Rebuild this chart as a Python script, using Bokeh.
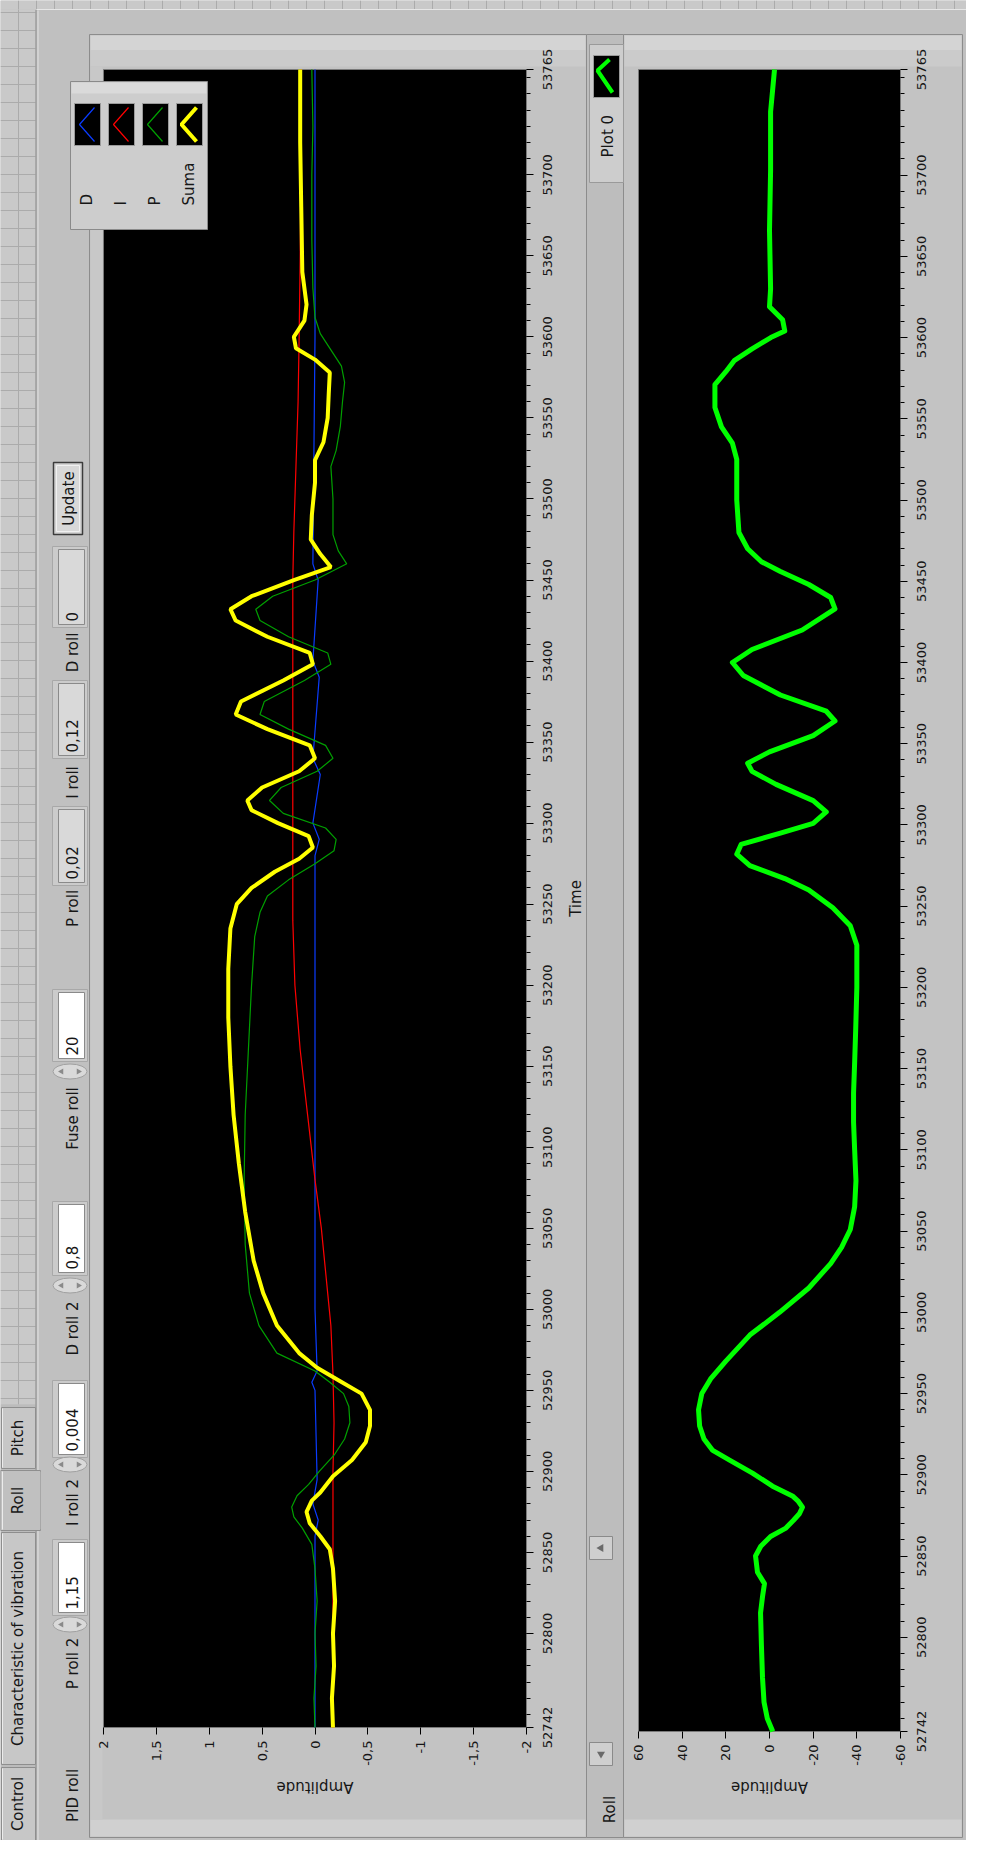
import math
from bokeh.plotting import figure
from bokeh.models import Range1d, LinearAxis, FixedTicker
from bokeh.embed import file_html
from bokeh.resources import INLINE
from bokeh.core.properties import value

# ---------------- data ----------------
time_start, time_end = 52742, 53765
amp_min, amp_max = -2, 2
roll_min, roll_max = -60, 60
amp_ticks = [-2, -1.5, -1, -0.5, 0, 0.5, 1, 1.5, 2]
amp_labels = ["-2", "-1,5", "-1", "-0,5", "0", "0,5", "1", "1,5", "2"]
roll_ticks = [-60, -40, -20, 0, 20, 40, 60]
roll_labels = ["-60", "-40", "-20", "0", "20", "40", "60"]
time_ticks = [52742, 52800, 52850, 52900, 52950, 53000, 53050, 53100, 53150, 53200, 53250,
              53300, 53350, 53400, 53450, 53500, 53550, 53600, 53650, 53700, 53765]
time_labels = ["52742", "52800", "52850", "52900", "52950", "53000", "53050", "53100",
               "53150", "53200", "53250", "53300", "53350", "53400", "53450", "53500",
               "53550", "53600", "53650", "53700", "53765"]
time_minor = list(range(52750, 53765, 10))

series_names = ["D", "I", "P", "Suma"]
series_colors = ["#0a3cff", "#ff0000", "#00a000", "#ffff00"]
series_widths = [1.2, 1.2, 1.2, 4]

d_time = [52742, 52860, 52870, 52880, 52895, 52950, 52955, 52962, 53000, 53280, 53290, 53300,
          53330, 53340, 53390, 53400, 53450, 53460, 53600, 53765]
d_vals = [0.0, 0.0, -0.03, 0.02, -0.02, 0.0, 0.03, -0.02, 0.0, 0.0, -0.04, 0.02,
          -0.05, 0.02, -0.04, 0.02, -0.03, 0.02, 0.0, 0.0]

i_time = [52742, 52800, 52850, 52900, 52930, 52960, 52990, 53010, 53050, 53080, 53120, 53160,
          53200, 53240, 53300, 53350, 53400, 53450, 53480, 53520, 53560, 53600, 53650, 53700, 53765]
i_vals = [-0.17, -0.17, -0.17, -0.17, -0.18, -0.17, -0.15, -0.12, -0.06, 0.0, 0.07, 0.14,
          0.19, 0.21, 0.21, 0.21, 0.21, 0.21, 0.2, 0.18, 0.16, 0.15, 0.14, 0.135, 0.13]

p_time = [52742, 52760, 52780, 52800, 52820, 52840, 52855, 52865, 52872, 52878, 52885, 52892,
          52900, 52910, 52920, 52930, 52940, 52948, 52955, 52962, 52973, 52990, 53010, 53040,
          53080, 53120, 53160, 53200, 53230, 53245, 53255, 53265, 53275, 53283, 53290, 53297,
          53306, 53314, 53322, 53332, 53340, 53348, 53358, 53367, 53375, 53388, 53398, 53405,
          53415, 53425, 53432, 53440, 53450, 53460, 53468, 53478, 53500, 53520, 53530, 53545,
          53560, 53572, 53582, 53592, 53602, 53612, 53630, 53660, 53700, 53730, 53765]
p_vals = [0.0, 0.01, -0.01, 0.0, -0.02, 0.0, 0.03, 0.12, 0.2, 0.22, 0.17, 0.06,
          -0.04, -0.18, -0.28, -0.33, -0.32, -0.27, -0.14, 0.0, 0.36, 0.53, 0.62, 0.66,
          0.67, 0.66, 0.63, 0.6, 0.57, 0.52, 0.45, 0.25, 0.0, -0.18, -0.2, -0.1,
          0.3, 0.43, 0.32, -0.02, -0.17, -0.1, 0.25, 0.52, 0.48, 0.1, -0.15, -0.12,
          0.25, 0.52, 0.56, 0.4, 0.0, -0.3, -0.22, -0.17, -0.17, -0.15, -0.2, -0.24,
          -0.26, -0.28, -0.25, -0.15, -0.05, 0.0, 0.02, 0.03, 0.03, 0.02, 0.03]

s_time = [52742, 52760, 52780, 52800, 52820, 52840, 52852, 52860, 52868, 52875, 52882, 52887,
          52897, 52907, 52918, 52928, 52938, 52948, 52956, 52964, 52973, 52990, 53010, 53030,
          53060, 53090, 53120, 53150, 53180, 53210, 53235, 53250, 53260, 53270, 53278, 53285,
          53292, 53300, 53308, 53314, 53322, 53332, 53340, 53348, 53358, 53367, 53375, 53388,
          53398, 53405, 53415, 53425, 53432, 53440, 53450, 53458, 53466, 53475, 53490, 53510,
          53524, 53535, 53550, 53565, 53578, 53586, 53593, 53600, 53610, 53620, 53640, 53680,
          53720, 53765]
s_vals = [-0.17, -0.16, -0.18, -0.17, -0.19, -0.17, -0.14, -0.05, 0.05, 0.08, 0.03, -0.05,
          -0.17, -0.35, -0.48, -0.52, -0.52, -0.44, -0.23, -0.02, 0.15, 0.36, 0.49, 0.58,
          0.66, 0.72, 0.77, 0.8, 0.82, 0.82, 0.8, 0.74, 0.6, 0.38, 0.15, 0.02,
          0.06, 0.35, 0.6, 0.64, 0.5, 0.15, 0.0, 0.05, 0.45, 0.75, 0.7, 0.3,
          0.02, 0.05, 0.45, 0.75, 0.8, 0.6, 0.2, -0.15, -0.05, 0.04, 0.03, 0.0,
          0.0, -0.08, -0.12, -0.13, -0.14, 0.0, 0.18, 0.2, 0.1, 0.08, 0.12, 0.13,
          0.14, 0.14]

r_time = [52742, 52750, 52760, 52775, 52795, 52815, 52825, 52833, 52840, 52850, 52856, 52862,
          52867, 52872, 52876, 52880, 52884, 52887, 52893, 52901, 52909, 52915, 52922, 52930,
          52940, 52950, 52959, 52970, 52986, 53000, 53015, 53030, 53040, 53051, 53065, 53081,
          53100, 53117, 53135, 53154, 53175, 53200, 53226, 53238, 53249, 53260, 53267, 53275,
          53282, 53288, 53295, 53301, 53308, 53315, 53325, 53333, 53338, 53345, 53355, 53364,
          53370, 53380, 53392, 53400, 53408, 53420, 53433, 53440, 53448, 53456, 53462, 53470,
          53480, 53500, 53515, 53525, 53535, 53545, 53557, 53571, 53579, 53586, 53593, 53600,
          53604, 53611, 53619, 53630, 53666, 53703, 53739, 53765]
r_vals = [-1.5, 1.0, 2.5, 3.2, 3.7, 4.1, 3.2, 2.3, 5.5, 6.4, 4.0, -0.5,
          -7.3, -11.0, -13.7, -15.1, -13.0, -10.5, -1.4, 7.8, 18.3, 26.0, 30.0, 32.0,
          32.5, 31.0, 27.0, 20.0, 9.0, -4.6, -18.0, -28.0, -33.0, -37.0, -39.0, -39.6,
          -39.0, -38.5, -38.5, -39.0, -39.5, -40.0, -40.0, -37.0, -29.0, -18.0, -7.0, 9.0,
          15.0, 13.0, -5.0, -20.0, -26.0, -20.0, -3.0, 8.0, 10.0, 0.0, -20.0, -30.0,
          -26.0, -5.0, 12.0, 17.0, 8.0, -15.0, -30.0, -28.0, -18.0, -5.0, 3.7, 10.0,
          14.0, 15.0, 15.0, 15.0, 17.0, 22.0, 25.0, 25.0, 20.0, 16.0, 8.0, -0.6,
          -7.0, -6.0, 0.0, -0.5, 0.0, -0.5, -0.5, -2.3]

tab_names = ["Control", "Characteristic of vibration", "Roll", "Pitch"]
control_labels = ["P roll 2", "I roll 2", "D roll 2", "Fuse roll", "P roll", "I roll", "D roll"]
control_values = ["1,15", "0,004", "0,8", "20", "0,02", "0,12", "0"]

# ---------------- layout (reference pixel units) ----------------
OX, OY = 8, 8
W, H = 966, 1840
C1L, C1R, C1T, C1B = 111, 534, 77, 1735
C2L, C2R, C2T, C2B = 646, 908, 77, 1739

PANEL = "#c0c0c0"
TXT = "#161616"
FONT = value("DejaVu Sans")

p = figure(width=W, height=H, x_range=Range1d(OX, OX + W), y_range=Range1d(OY + H, OY),
           min_border=0, toolbar_location=None, output_backend="svg",
           x_axis_type=None, y_axis_type=None)
p.outline_line_color = None
p.background_fill_color = PANEL
p.border_fill_color = PANEL


def span_range(v_a, v_b, px_a, px_b, px_lo, px_hi):
    k = (v_b - v_a) / (px_b - px_a)
    return Range1d(v_a + k * (px_lo - px_a), v_a + k * (px_hi - px_a))


p.extra_x_ranges = {
    "amp": span_range(amp_max, amp_min, C1L, C1R, OX, OX + W),
    "roll": span_range(roll_max, roll_min, C2L, C2R, OX, OX + W),
}
p.extra_y_ranges = {
    "t1": span_range(time_start, time_end, C1B, C1T, OY + H, OY),
    "t2": span_range(time_start, time_end, C2B, C2T, OY + H, OY),
}


def box(l, r, t, b, fill, line=None, lw=1):
    p.quad(left=[l], right=[r], top=[t], bottom=[b], fill_color=fill,
           line_color=line, line_width=lw)


def rtext(x, y, s, size="15px", align="center", angle=math.pi / 2, color=TXT, **kw):
    if not isinstance(x, list):
        x, y, s = [x], [y], [s]
    p.text(x=x, y=y, text=s, angle=angle, text_align=align, text_baseline="middle",
           text_font=FONT, text_font_size=size, text_color=color, **kw)


# --- background grid of the front panel ---
box(OX, OX + W, OY, 17, "#c9c9c9")
gx = list(range(26, OX + W, 18))
p.segment(x0=gx, y0=[OY] * len(gx), x1=gx, y1=[17] * len(gx), line_color="#ababab")
box(OX, 43, 17, 1412, "#c9c9c9")
gy = list(range(20, 1412, 18))
p.segment(x0=[OX] * len(gy), y0=gy, x1=[43] * len(gy), y1=gy, line_color="#ababab")
p.segment(x0=[26], y0=[17], x1=[26], y1=[1412], line_color="#ababab")
p.segment(x0=[43], y0=[17], x1=[OX + W], y1=[17], line_color="#e6e6e6")

# --- tab control ---
box(OX, 43, 1412, OY + H, "#bcbcbc")
p.segment(x0=[43.5], y0=[17], x1=[43.5], y1=[OY + H], line_color="#8a8a8a")
p.segment(x0=[45.5], y0=[18], x1=[45.5], y1=[OY + H], line_color="#e2e2e2")
tab_spans = [(1775, 1848), (1540, 1772), (1478, 1538), (1415, 1476)]
for name, (t0, t1) in zip(tab_names, tab_spans):
    sel = name == "Roll"
    box(OX + 1 if not sel else OX, 48 if sel else 43, t0, t1, PANEL if sel else "#c7c7c7",
        "#8e8e8e")
    p.segment(x0=[OX + 2], y0=[t0 + 1], x1=[OX + 2], y1=[t1 - 1], line_color="#ececec")
    rtext(25, (t0 + t1) / 2, name)
box(44, 48, 1479, 1537, PANEL)

# --- controls column ---
rtext(80, 1803, "PID roll")
ctrl_label_y = [1671, 1510, 1336, 1126, 916, 790, 660]
ctrl_box = [(1550, 1620), (1391, 1462), (1212, 1280), (1000, 1066), (817, 890), (691, 763),
            (557, 632)]
ctrl_spin = [1632, 1472, 1293, 1079, None, None, None]
for i, (lab, val) in enumerate(zip(control_labels, control_values)):
    t0, t1 = ctrl_box[i]
    white = ctrl_spin[i] is not None
    box(60, 95, t0 - 3, t1 + 3, "#cbcbcb", "#a8a8a8")
    box(66, 92, t0, t1, "#ffffff" if white else "#d9d9d9", "#8a8a8a")
    rtext(79.5, t1 - 3, val, align="left")
    rtext(80, ctrl_label_y[i], lab)
    if white:
        sy = ctrl_spin[i]
        p.ellipse(x=[77.5], y=[sy], width=34, height=15, fill_color="#d9d9d9",
                  line_color="#a0a0a0")
        p.scatter(x=[69, 86], y=[sy, sy], marker="triangle", size=6,
                  angle=[math.pi / 2, -math.pi / 2], fill_color="#8a8a8a", line_color=None)
# Update button
box(61, 90, 470, 542, "#d2d2d2", "#3c3c3c", 1.5)
box(64, 87, 473, 539, "#d8d8d8", "#f0f0f0")
rtext(76, 506, "Update")

# --- chart widgets ---
for (l, r) in [(97, 594), (631, 970)]:
    box(l, r, 42, 1845, "#c3c3c3", "#8c8c8c")
    box(l + 1, r - 1, 43, 58, "#d4d4d4")
    box(l + 1, r - 1, 58, 74, "#cbcbcb")
    box(l + 1, r - 1, 1827, 1844, "#d0d0d0")
box(98, 110, 74, 1827, "#c8c8c8")
box(594, 631, 42, 1845, "#bdbdbd", "#8c8c8c")

# black plot areas through the data ranges
p.quad(left=[amp_max], right=[amp_min], bottom=[time_start], top=[time_end],
       x_range_name="amp", y_range_name="t1", fill_color="black", line_color="#7a7a7a")
p.quad(left=[roll_max], right=[roll_min], bottom=[time_start], top=[time_end],
       x_range_name="roll", y_range_name="t2", fill_color="black", line_color="#7a7a7a")

# data lines
series = [(d_vals, d_time), (i_vals, i_time), (p_vals, p_time), (s_vals, s_time)]
for (xv, tv), col, lw in zip(series, series_colors, series_widths):
    p.line(x=xv, y=tv, x_range_name="amp", y_range_name="t1", line_color=col, line_width=lw)
p.line(x=r_vals, y=r_time, x_range_name="roll", y_range_name="t2", line_color="#00ff00",
       line_width=5, line_join="round")

# --- legend of PID chart ---
box(78, 215, 89, 237, "#cdcdcd", "#8a8a8a")
box(79, 214, 90, 101, "#dadada")
sw_left = [82, 116, 150, 184]
for i, l in enumerate(sw_left):
    box(l, l + 26, 111, 153, "black", "#9a9a9a")
    p.line(x=[l + 20, l + 5, l + 20], y=[115, 132, 149], line_color=series_colors[i],
           line_width=series_widths[i] if series_widths[i] > 2 else 1.2)
    rtext(l + 12, 213, series_names[i], align="left")

# --- Plot 0 legend ---
box(597, 631, 52, 190, "#cdcdcd", "#9a9a9a")
box(601, 627, 63, 105, "black", "#9a9a9a")
p.line(x=[617, 605, 620], y=[67, 78, 100], line_color="#00ff00", line_width=4)
rtext(615, 165, "Plot 0", align="left")

# --- scroll buttons and Roll label ---
for (t0, t1), ang in zip([(1544, 1567), (1750, 1773)], [math.pi / 2, math.pi]):
    box(597, 620, t0, t1, "#cfcfcf", "#8a8a8a")
    p.scatter(x=[608.5], y=[(t0 + t1) / 2], marker="triangle", size=8, angle=ang,
              fill_color="#6a6a6a", line_color=None)
rtext(617, 1817, "Roll")

# --- axes (ticks via Bokeh axes, labels as rotated text through the same scales) ---
def style_axis(ax, minor=False):
    ax.axis_line_color = None
    ax.major_tick_in = 0
    ax.major_tick_out = 7
    ax.minor_tick_in = 0
    ax.minor_tick_out = 4 if minor else 0
    ax.major_tick_line_color = "black"
    ax.minor_tick_line_color = "black"
    ax.major_label_text_color = None
    ax.major_label_text_font_size = "1px"


for rname, yname, ticks in [("amp", "t1", amp_ticks), ("roll", "t2", roll_ticks)]:
    ax = LinearAxis(x_range_name=rname, y_range_name=yname, fixed_location=time_start,
                    bounds=(min(ticks), max(ticks)), ticker=FixedTicker(ticks=ticks))
    style_axis(ax)
    p.add_layout(ax, "below")

for rname, yname, loc in [("amp", "t1", amp_min), ("roll", "t2", roll_min)]:
    tax = LinearAxis(x_range_name=rname, y_range_name=yname, fixed_location=loc,
                     bounds=(time_start, time_end),
                     ticker=FixedTicker(ticks=time_ticks, minor_ticks=time_minor))
    style_axis(tax, minor=True)
    p.add_layout(tax, "right")

# amplitude tick labels (end of text next to the tick)
rtext(amp_ticks, [1748] * len(amp_ticks), amp_labels, size="13px", align="right",
      x_range_name="amp")
rtext(roll_ticks, [1752] * len(roll_ticks), roll_labels, size="13px", align="right",
      x_range_name="roll")
# time tick labels (centred on the tick)
rtext([555] * len(time_ticks), time_ticks, time_labels, size="13px", y_range_name="t1")
rtext([929] * len(time_ticks), time_ticks, time_labels, size="13px", y_range_name="t2")

# axis titles
rtext([0], [1794], ["Amplitude"], angle=math.pi, x_range_name="amp")
rtext([0], [1794], ["Amplitude"], angle=math.pi, x_range_name="roll")
rtext([583], [(time_start + time_end) / 2], ["Time"], y_range_name="t1")

open("out.html", "w").write(file_html(p, INLINE))
